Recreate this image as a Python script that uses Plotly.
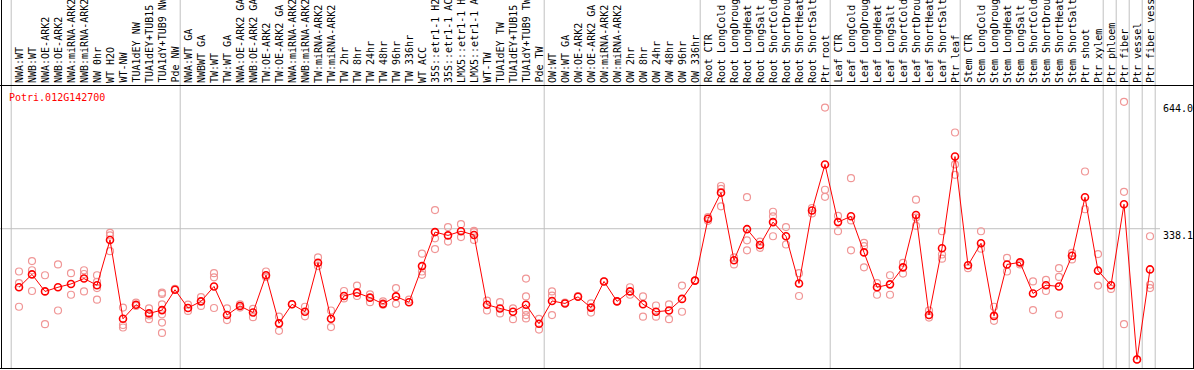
import plotly.graph_objects as go

gene = "Potri.012G142700"

labels = [
    "NWA:WT", "NWB:WT", "NWA:OE-ARK2", "NWB:OE-ARK2", "NWA:miRNA-ARK2", "NWB:miRNA-ARK2",
    "NW 0hr", "WT H2O", "WT-NW", "TUA1dEY NW", "TUA1dEY+TUB15 ", "TUA1dY+TUB9 NW", "Pde NW",
    "NWA:WT GA", "NWBWT GA", "TW:WT", "TW:WT GA", "NWA:OE-ARK2 GA", "NWB:OE-ARK2 GA",
    "TW:OE-ARK2", "TW:OE-ARK2 GA", "NWA:miRNA-ARK2", "NWB:miRNA-ARK2", "TW:miRNA-ARK2",
    "TW:miRNA-ARK2", "TW 2hr", "TW 8hr", "TW 24hr", "TW 48hr", "TW 96hr", "TW 336hr",
    "WT ACC", "35S::etr1-1 H2", "35S::etr1-1 AC", "LMX5::etr1-1 H", "LMX5::etr1-1 A",
    "WT-TW", "TUA1dEY TW", "TUA1dEY+TUB15 ", "TUA1dY+TUB9 TW", "Pde TW",
    "OW:WT", "OW:WT GA", "OW:OE-ARK2", "OW:OE-ARK2 GA", "OW:miRNA-ARK2", "OW:miRNA-ARK2",
    "OW 2hr", "OW 8hr", "OW 24hr", "OW 48hr", "OW 96hr", "OW 336hr",
    "Root CTR", "Root LongCold", "Root LongDroug", "Root LongHeat", "Root LongSalt",
    "Root ShortCold", "Root ShortDrou", "Root ShortHeat", "Root ShortSalt", "Ptr root",
    "Leaf CTR", "Leaf LongCold", "Leaf LongDroug", "Leaf LongHeat", "Leaf LongSalt",
    "Leaf ShortCold", "Leaf ShortDrou", "Leaf ShortHeat", "Leaf ShortSalt", "Ptr leaf",
    "Stem CTR", "Stem LongCold", "Stem LongDroug", "Stem LongHeat", "Stem LongSalt",
    "Stem ShortCold", "Stem ShortDrou", "Stem ShortHeat", "Stem ShortSalt",
    "Ptr shoot", "Ptr xylem", "Ptr phloem", "Ptr fiber", "Ptr vessel", "Ptr fiber vess",
]

means = [
    197, 228, 187, 197, 205, 218, 202, 311, 121, 155, 134, 142, 191,
    147, 163, 199, 130, 152, 136, 226, 110, 156, 138, 256, 121,
    176, 184, 172, 157, 175, 161, 248, 330, 322, 332, 323,
    155, 146, 138, 155, 109, 164, 158, 174, 148, 211, 163,
    187, 156, 138, 141, 169, 213,
    362, 425, 262, 337, 299, 354, 320, 206, 382, 493,
    354, 368, 281, 197, 204, 245, 371, 130, 291, 512,
    250, 303, 128, 252, 257, 182, 202, 199, 273,
    414, 237, 202, 397, 23, 240,
]

replicates = [
    [235, 207, 150], [260, 238, 188], [226, 108], [252, 141], [231, 179], [238, 229, 187],
    [226, 210, 195, 167], [328, 322, 284], [148, 106, 100], [160, 152], [146, 129, 120],
    [184, 181, 156, 132, 112, 87], [193],
    [155, 140], [173, 152], [231, 221, 147], [146, 118], [156, 148], [145, 125],
    [235, 222], [126, 92], [156], [150, 127], [269, 248], [141, 101],
    [188, 170], [201, 176], [180, 161], [163, 155], [195, 157], [167],
    [278, 235, 227], [383, 315, 289], [342, 307], [349, 318], [333, 311, 330],
    [165, 141], [161, 134], [146, 120], [218, 175, 141, 130, 122], [121, 95],
    [187, 177, 130], [160], [176], [158, 136], [211], [163],
    [197, 179], [175, 126], [153, 126], [156, 120], [201, 138], [213],
    [366, 357], [441, 434, 392], [269, 252], [414, 310, 286], [307, 292],
    [379, 368, 320], [342, 300], [231, 176], [388, 375], [630, 432, 415],
    [369, 332], [460, 358, 286], [304, 296, 245], [207, 179], [226, 179],
    [256, 230], [408, 345, 365], [141, 124], [332, 276, 266], [570, 493, 468],
    [243], [332, 290], [150, 116], [268, 235], [252],
    [211, 142], [215, 188], [243, 222, 131], [280, 264],
    [476, 385], [277, 201], [193], [644, 427, 108], [23], [320, 203, 195],
]

y_ticks = [644.0, 338.1, 0]
group_ends = [-1, 12, 40, 52, 62, 72, 83, 84, 85, 86, 87]

W, H = 1194, 370
L, R, T, B = 3, 1160, 86, 368  # plot area pixel box
MONO = "DejaVu Sans Mono"

def px_to_paper_x(px):
    return (px - L) / (R - L)

def px_to_paper_y(py):
    return (B - py) / (B - T)

idx = list(range(len(labels)))

rx, ry = [], []
for i, reps in enumerate(replicates):
    for v in reps:
        rx.append(i)
        ry.append(v)

fig = go.Figure()
fig.add_trace(go.Scatter(
    x=rx, y=ry, mode="markers",
    marker=dict(symbol="circle-open", size=7, color="rgb(240,150,150)",
                line=dict(width=1.2, color="rgb(240,150,150)")),
    hoverinfo="skip", showlegend=False,
))
fig.add_trace(go.Scatter(
    x=idx, y=means, mode="lines+markers",
    line=dict(color="#ff0000", width=1),
    marker=dict(symbol="circle-open", size=7, color="#ff0000",
                line=dict(width=1.6, color="#ff0000")),
    showlegend=False,
))

shapes = []
for g in group_ends:
    shapes.append(dict(type="line", xref="x", yref="paper", x0=g + 0.4, x1=g + 0.4,
                       y0=px_to_paper_y(368), y1=px_to_paper_y(0),
                       line=dict(color="#c0c0c0", width=1), layer="below"))
shapes.append(dict(type="line", xref="paper", yref="y", x0=px_to_paper_x(0), x1=1.0,
                   y0=y_ticks[1], y1=y_ticks[1], line=dict(color="#c0c0c0", width=1),
                   layer="below"))
shapes.append(dict(type="line", xref="paper", yref="paper",
                   x0=px_to_paper_x(0), x1=px_to_paper_x(W),
                   y0=px_to_paper_y(85.5), y1=px_to_paper_y(85.5),
                   line=dict(color="black", width=1)))
shapes.append(dict(type="line", xref="paper", yref="paper",
                   x0=px_to_paper_x(0), x1=px_to_paper_x(W),
                   y0=px_to_paper_y(368.5), y1=px_to_paper_y(368.5),
                   line=dict(color="black", width=1)))
shapes.append(dict(type="line", xref="paper", yref="paper",
                   x0=px_to_paper_x(1.5), x1=px_to_paper_x(1.5),
                   y0=px_to_paper_y(369), y1=px_to_paper_y(0),
                   line=dict(color="black", width=1)))
shapes.append(dict(type="line", xref="paper", yref="paper",
                   x0=px_to_paper_x(1193.5), x1=px_to_paper_x(1193.5),
                   y0=px_to_paper_y(369), y1=px_to_paper_y(0),
                   line=dict(color="black", width=1)))

annotations = []
for i, lab in enumerate(labels):
    annotations.append(dict(
        x=i, xref="x", y=px_to_paper_y(84), yref="paper",
        text=lab.replace(" ", "&nbsp;"), textangle=-90, showarrow=False,
        xanchor="center", yanchor="bottom", borderpad=0,
        font=dict(family=MONO, size=10, color="black"),
    ))
annotations.append(dict(
    x=px_to_paper_x(8), xref="paper", y=px_to_paper_y(91), yref="paper",
    text=gene, showarrow=False, xanchor="left", yanchor="top", borderpad=0,
    font=dict(family=MONO, size=10, color="#ff0000"),
))
for v in y_ticks:
    annotations.append(dict(
        x=px_to_paper_x(1162), xref="paper", y=v, yref="y",
        text=("%.1f" % v) if v else "0", showarrow=False, xanchor="left",
        yanchor="top" if v else "bottom", borderpad=0,
        font=dict(family=MONO, size=10, color="black"),
    ))

y_lo = -(367 - B) / 0.412
y_hi = (367 - T) / 0.412
x_lo = (L - 19) / 13.0
x_hi = (R - 19) / 13.0

fig.update_layout(
    width=W, height=H,
    margin=dict(l=L, r=W - R, t=T, b=H - B, pad=0),
    paper_bgcolor="white", plot_bgcolor="white",
    xaxis=dict(range=[x_lo, x_hi], showgrid=False, zeroline=False,
               showticklabels=False, ticks="", showline=False, fixedrange=True),
    yaxis=dict(range=[y_lo, y_hi], showgrid=False, zeroline=False,
               showticklabels=False, ticks="", showline=False, fixedrange=True),
    shapes=shapes, annotations=annotations, showlegend=False,
)

fig.write_html("out.html", config={"displayModeBar": False},
               post_script="document.body.style.margin='0px';document.body.style.overflow='hidden';")
